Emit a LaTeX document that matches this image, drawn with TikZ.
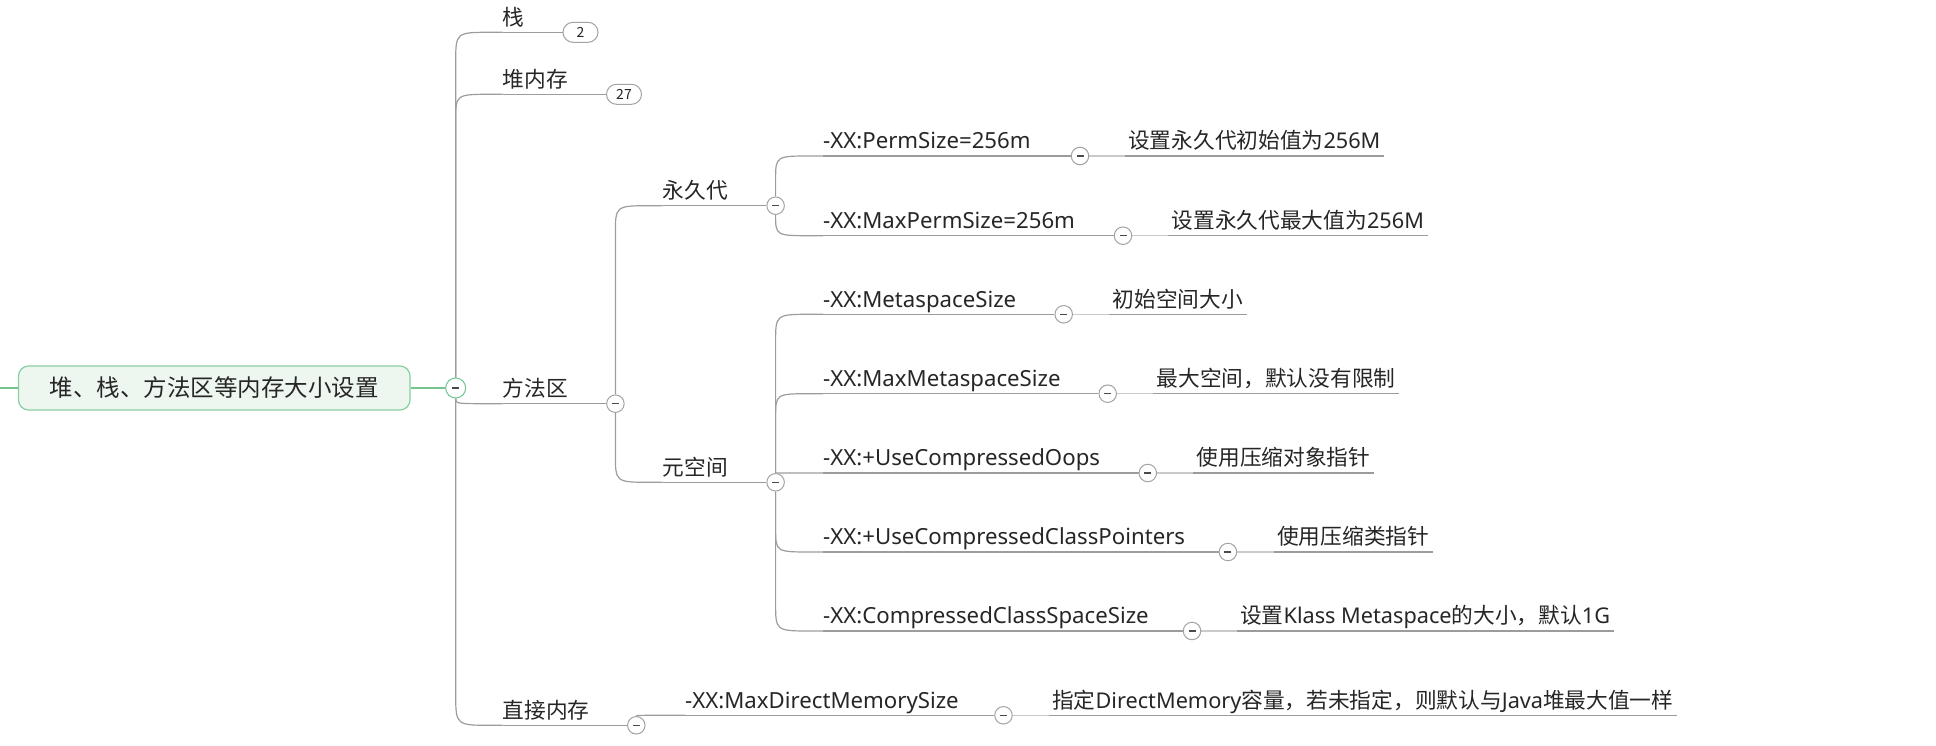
\documentclass[tikz,border=0pt]{standalone}
\usepackage{fontspec}
\setmainfont{Noto Sans CJK SC}
\newfontfamily\lat{Noto Sans}
\usetikzlibrary{calc}
\definecolor{lineg}{HTML}{9C9C9C}
\definecolor{lightg}{HTML}{CACACA}
\definecolor{circg}{HTML}{A3A3A3}
\definecolor{minusc}{HTML}{4A4A4A}
\definecolor{txt}{HTML}{262626}
\definecolor{rootfill}{HTML}{EDF7F0}
\definecolor{rootdraw}{HTML}{86CFA0}
\definecolor{greenl}{HTML}{74C590}
\newcommand\cjkf{\fontsize{21.7}{26}\selectfont}
\newcommand\latf{\lat\fontsize{22.2}{26}\selectfont}
\newcommand\rootf{\fontsize{23.5}{28}\selectfont}
\pgfdeclarelayer{bg}
\pgfsetlayers{bg,main}
\tikzset{
  every node/.style={text=txt},
  conn/.style={draw=lineg, line width=1.2pt},
  uline/.style={draw=lineg, line width=1.2pt},
  faint/.style={draw=lightg, line width=1.2pt},
  greenline/.style={draw=greenl, line width=1.2pt},
  topic/.style={anchor=south west, inner xsep=0pt, inner ysep=0pt, text depth=7pt, font=\cjkf},
  xx/.style={topic, font=\latf},
  desc/.style={anchor=south west, inner xsep=3.5pt, inner ysep=0pt, text depth=7pt, font=\cjkf},
  fold/.style={circle, draw=circg, line width=1pt, fill=white, minimum size=17.5pt, inner sep=0pt,
    path picture={\draw[line width=1.2pt, minusc] ([xshift=-3.5pt]path picture bounding box.center) -- ([xshift=3.5pt]path picture bounding box.center);}},
  badge/.style={draw=circg, line width=1pt, fill=white, rounded corners=10pt, minimum width=35pt, minimum height=20pt, inner sep=0pt, font=\fontsize{14}{16}\selectfont},
  rootbox/.style={draw=rootdraw, fill=rootfill, rounded corners=10pt, line width=1.2pt, minimum width=391.5pt, minimum height=44pt, inner sep=0pt, font=\rootf},
  bendc/.style={to path={-- ($(\tikztostart|-\tikztotarget)+(0,#1)$) .. controls (\tikztostart|-\tikztotarget) .. ($(\tikztostart|-\tikztotarget)+(36,0)$) -- (\tikztotarget)}},
  sbend/.style={to path={.. controls (\tikztostart|-\tikztotarget) .. ($(\tikztostart|-\tikztotarget)+(36,0)$) -- (\tikztotarget)}},
}
\begin{document}
\begin{tikzpicture}[x=1pt,y=-1pt]
\useasboundingbox (0,0) rectangle (1936,746);

% root
\node[rootbox] (root) at (214.25,388) {堆、栈、方法区等内存大小设置};
\coordinate (lft) at (0,388);

% level 1
\node[topic] (zhan) at (502.5,32.3) {栈};
\node[topic] (dui) at (502.5,94.3) {堆内存};
\node[topic] (ff) at (502.5,403.7) {方法区};
\node[topic] (zj) at (502.5,725.3) {直接内存};
% level 2
\node[topic] (yjd) at (662.7,205.7) {永久代};
\node[topic] (ykj) at (662.7,482.3) {元空间};
% level 3
\node[xx] (p1) at (823,156) {-XX:PermSize=256m};
\node[xx] (p2) at (823,235.7) {-XX:MaxPermSize=256m};
\node[xx] (m1) at (823,314.3) {-XX:MetaspaceSize};
\node[xx] (m2) at (823,393.7) {-XX:MaxMetaspaceSize};
\node[xx] (m3) at (823,473) {-XX:+UseCompressedOops};
\node[xx] (m4) at (823,552) {-XX:+UseCompressedClassPointers};
\node[xx] (m5) at (823,631) {-XX:CompressedClassSpaceSize};
\node[xx] (d1) at (685,715.3) {-XX:MaxDirectMemorySize};
% descriptions
\node[desc] (e1) at (1124.5,156) {设置永久代初始值为{\lat 256M}};
\node[desc] (e2) at (1168,235.7) {设置永久代最大值为{\lat 256M}};
\node[desc] (e3) at (1109,314.3) {初始空间大小};
\node[desc] (e4) at (1153,393.7) {最大空间，默认没有限制};
\node[desc] (e5) at (1193,473) {使用压缩对象指针};
\node[desc] (e6) at (1273.5,552) {使用压缩类指针};
\node[desc] (e7) at (1236.5,631) {设置{\lat Klass Metaspace}的大小，默认{\lat 1G}};
\node[desc] (e8) at (1048.5,715.3) {指定{\lat DirectMemory}容量，若未指定，则默认与{\lat Java}堆最大值一样};

% fold buttons
\node[fold, draw=greenl, minimum size=20pt] (cR) at (455.7,388) {};
\node[fold] (cF) at (615.4,403.7) {};
\node[fold] (cZ) at (636.3,725.3) {};
\node[fold] (cY) at (775.6,205.7) {};
\node[fold] (cM) at (775.6,482.3) {};
\node[fold] (cp1) at (1080,156) {};
\node[fold] (cp2) at (1123,235.7) {};
\node[fold] (cm1) at (1063.7,314.3) {};
\node[fold] (cm2) at (1107.7,393.7) {};
\node[fold] (cm3) at (1147.8,473) {};
\node[fold] (cm4) at (1227.9,552) {};
\node[fold] (cm5) at (1192,631) {};
\node[fold] (cd1) at (1003.5,715.3) {};
% badges
\node[badge] (b1) at (580.5,32.3) {2};
\node[badge] (b2) at (624,94.3) {27};

\begin{pgfonlayer}{bg}
  \draw[greenline] (lft) -- (root.west);
  \draw[greenline] (root.east) -- (cR);
  % root branches
  \draw[conn] (cR) to[bendc=30] (zhan.south west);
  \draw[conn] (cR) to[bendc=26] (dui.south west);
  \draw[conn] (cR) to[sbend] (ff.south west);
  \draw[conn] (cR) to[bendc=-32] (zj.south west);
  \draw[uline] (zhan.south west) -- (b1.west);
  \draw[uline] (dui.south west) -- (b2.west);
  \draw[uline] (ff.south west) -- (cF);
  \draw[uline] (zj.south west) -- (cZ);
  % method area
  \draw[conn] (cF) to[bendc=28] (yjd.south west);
  \draw[conn] (cF) to[bendc=-28] (ykj.south west);
  \draw[uline] (yjd.south west) -- (cY);
  \draw[uline] (ykj.south west) -- (cM);
  % perm gen
  \draw[conn] (cY) to[bendc=24] (p1.south west);
  \draw[conn] (cY) to[sbend] (p2.south west);
  % metaspace
  \draw[conn] (cM) to[bendc=28] (m1.south west);
  \draw[conn] (cM) to[bendc=24] (m2.south west);
  \draw[conn] (cM) to[sbend] (m3.south west);
  \draw[conn] (cM) to[bendc=-24] (m4.south west);
  \draw[conn] (cM) to[bendc=-28] (m5.south west);
  % direct memory
  \draw[conn] (cZ) to[sbend] (d1.south west);
  % leaf underlines
  \foreach \n/\c in {p1/cp1,p2/cp2,m1/cm1,m2/cm2,m3/cm3,m4/cm4,m5/cm5,d1/cd1}{
    \draw[uline] (\n.south west) -- (\c);
  }
  \foreach \c/\e in {cp1/e1,cp2/e2,cm1/e3,cm2/e4,cm3/e5,cm4/e6,cm5/e7,cd1/e8}{
    \draw[faint] (\c) -- (\e.south west);
    \draw[uline] (\e.south west) -- (\e.south east);
  }
\end{pgfonlayer}
\end{tikzpicture}
\end{document}
